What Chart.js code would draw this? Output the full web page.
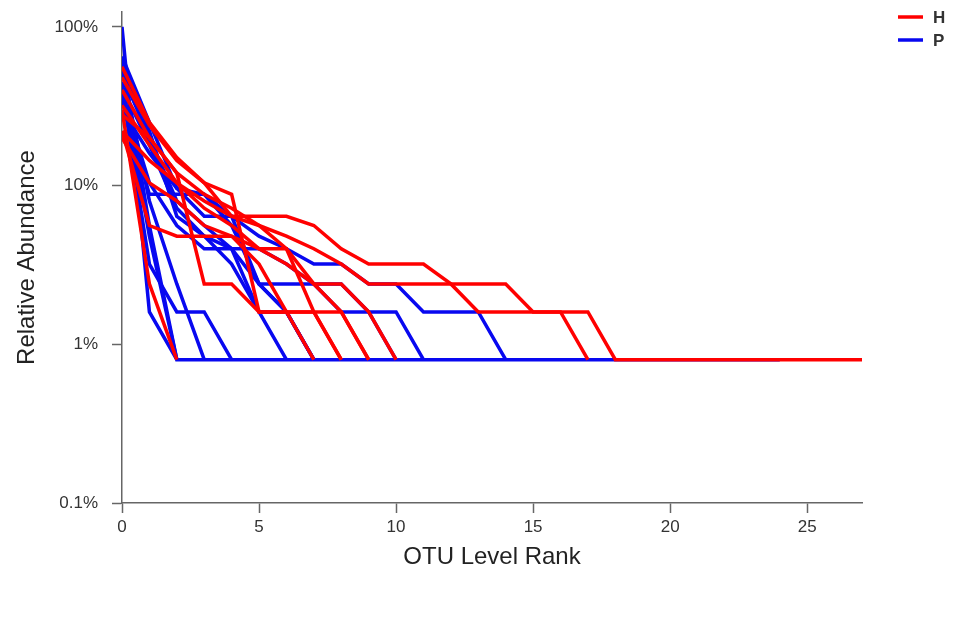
<!DOCTYPE html>
<html>
<head>
<meta charset="utf-8">
<script src="https://cdn.jsdelivr.net/npm/chart.js@4.4.1/dist/chart.umd.min.js"></script>
<style>
  html, body { margin: 0; padding: 0; background: #fff; }
  #wrap { width: 954px; height: 618px; }
</style>
</head>
<body>
<div id="wrap"><canvas id="myChart" width="954" height="618"></canvas></div>
<script>
// relative abundance (%) by OTU rank, one array per sample
const h1 = [48, 24, 14.4, 10.4, 6.4, 6.4, 6.4, 5.6, 4.0, 3.2, 3.2, 3.2, 2.4, 1.6, 1.6, 1.6, 1.6, 1.6, 0.8, 0.8, 0.8, 0.8, 0.8, 0.8, 0.8, 0.8, 0.8, 0.8];
const h2 = [22, 14.4, 10.4, 8, 6.4, 5.6, 4.8, 4.0, 3.2, 2.4, 2.4, 2.4, 2.4, 2.4, 2.4, 1.6, 1.6, 0.8];
const h3 = [56, 25, 15, 10.4, 8.8, 1.6, 1.6, 1.6, 1.6, 0.8];
const h4 = [40, 20, 12, 8.8, 7.2, 5.6, 4.0, 2.4, 2.4, 1.6, 0.8];
const h5 = [22, 5.6, 4.8, 4.8, 4.8, 4.0, 4.0, 1.6, 0.8];
const h6 = [30, 2.4, 0.8];
const h7 = [28, 20, 12, 2.4, 2.4, 1.6, 1.6, 1.6, 0.8];
const h8 = [32, 18, 10.4, 7.2, 5.6, 4.0, 3.2, 2.4, 1.6, 0.8];
const h9 = [20, 10.4, 8, 5.6, 4.8, 3.2, 1.6, 0.8];

const p1 = [100, 1.6, 0.8];
const p2 = [62, 5.6, 0.8];
const p3 = [45, 4.8, 0.8, 0.8, 0.8, 0.8, 0.8, 0.8, 0.8, 0.8, 0.8, 0.8, 0.8, 0.8, 0.8, 0.8, 0.8, 0.8, 0.8, 0.8, 0.8, 0.8, 0.8, 0.8, 0.8];
const p4 = [40, 3.2, 1.6, 1.6, 0.8];
const p5 = [55, 8, 2.4, 0.8];
const p6 = [30, 16, 9.6, 8.8, 6.4, 4.8, 4.0, 3.2, 3.2, 2.4, 2.4, 1.6, 1.6, 1.6, 0.8];
const p7 = [50, 20, 8, 5.6, 4.0, 2.4, 2.4, 2.4, 1.6, 1.6, 0.8];
const p8 = [42, 18, 7.2, 4.8, 4.0, 4.0, 3.2, 2.4, 2.4, 1.6, 1.6, 0.8];
const p9 = [58, 22, 6.4, 4.8, 3.2, 1.6, 0.8];
const p10 = [38, 10.4, 5.6, 4.0, 4.0, 1.6, 1.6, 0.8];
const p11 = [35, 8.8, 8.8, 8.8, 5.6, 2.4, 1.6, 0.8];
const p12 = [65, 25, 9.6, 6.4, 6.4, 2.4, 1.6, 0.8];

const groupH = [h1, h2, h3, h4, h5, h6, h7, h8, h9];
const groupP = [p1, p2, p3, p4, p5, p6, p7, p8, p9, p10, p11, p12];

const xTicks = [0, 5, 10, 15, 20, 25];
const yTicks = [0.1, 1, 10, 100];

const RED = 'rgb(255,0,0)';
const BLUE = 'rgb(8,8,240)';
const FONT = "'Liberation Sans', Arial, sans-serif";

function toPoints(arr) {
  return arr.map((v, i) => ({ x: i, y: v }));
}

const datasets = [];
groupH.forEach((s, i) => datasets.push({ label: 'H' + (i + 1), data: toPoints(s), borderColor: RED }));
groupP.forEach((s, i) => datasets.push({ label: 'P' + (i + 1), data: toPoints(s), borderColor: BLUE }));
datasets.forEach(d => {
  d.borderWidth = 3.5;
  d.pointRadius = 0;
  d.fill = false;
  d.tension = 0;
  d.borderJoinStyle = 'miter';
});

// two-entry legend in the top right corner
const legendPlugin = {
  id: 'groupLegend',
  afterDraw(chart) {
    const ctx = chart.ctx;
    const items = [['H', RED, 17], ['P', BLUE, 40]];
    ctx.save();
    ctx.font = 'bold 17px ' + FONT;
    ctx.textBaseline = 'middle';
    items.forEach(([t, c, y]) => {
      ctx.strokeStyle = c;
      ctx.lineWidth = 3.5;
      ctx.beginPath();
      ctx.moveTo(898, y);
      ctx.lineTo(923, y);
      ctx.stroke();
      ctx.fillStyle = '#333';
      ctx.fillText(t, 933, y + 1);
    });
    ctx.restore();
  }
};

const axisColor = '#666';

new Chart(document.getElementById('myChart').getContext('2d'), {
  type: 'line',
  data: { datasets: datasets },
  plugins: [legendPlugin],
  options: {
    responsive: false,
    animation: false,
    layout: { padding: { left: 9, right: 92, top: 12, bottom: 0 } },
    plugins: { legend: { display: false }, tooltip: { enabled: false } },
    scales: {
      x: {
        type: 'linear',
        min: 0,
        max: 27,
        afterBuildTicks: s => { s.ticks = xTicks.map(v => ({ value: v })); },
        afterFit: s => { s.height = 115; s.paddingLeft = 0; s.paddingRight = 0; },
        grid: { drawOnChartArea: false, tickLength: 10, color: axisColor, tickWidth: 1.5 },
        border: { color: axisColor, width: 1.5 },
        ticks: { color: '#333', font: { family: FONT, size: 17 }, padding: 4, maxRotation: 0 },
        title: { display: true, text: 'OTU Level Rank', color: '#222', font: { family: FONT, size: 24 }, padding: { top: 4, bottom: 46 } }
      },
      y: {
        type: 'logarithmic',
        min: 0.1,
        max: 124,
        afterBuildTicks: s => { s.ticks = yTicks.map(v => ({ value: v })); },
        afterFit: s => { s.width = 113; s.paddingTop = 0; s.paddingBottom = 0; },
        grid: { drawOnChartArea: false, tickLength: 10, color: axisColor, tickWidth: 1.5 },
        border: { color: axisColor, width: 1.5 },
        ticks: { color: '#333', font: { family: FONT, size: 17 }, padding: 14, callback: v => v + '%' },
        title: { display: true, text: 'Relative Abundance', color: '#222', font: { family: FONT, size: 24 }, padding: { top: 4, bottom: 4 } }
      }
    }
  }
});
</script>
</body>
</html>
